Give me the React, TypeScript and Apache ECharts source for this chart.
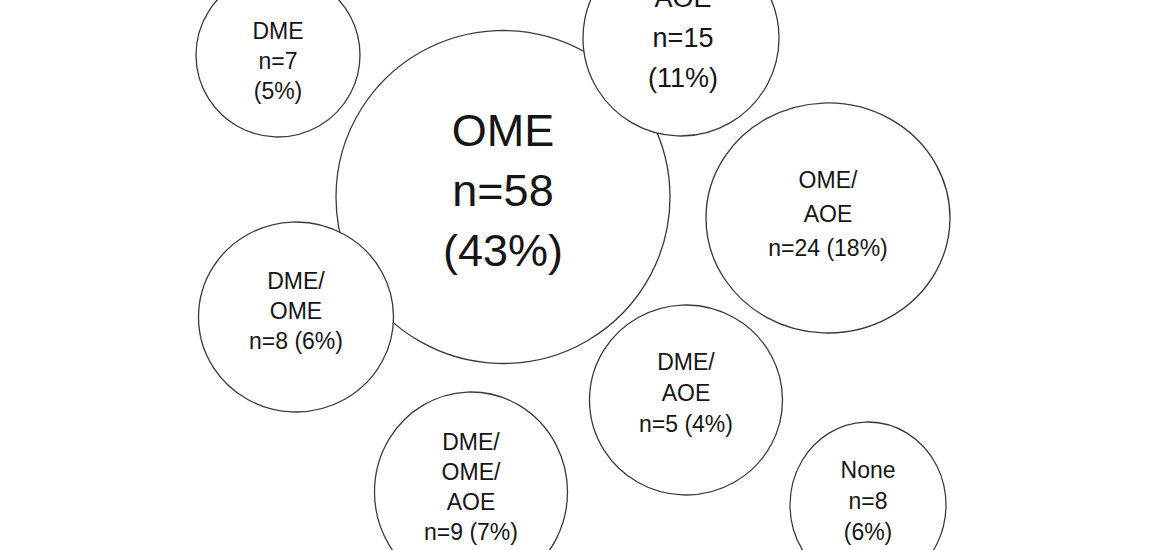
import React, { useEffect, useRef } from "react";
import * as echarts from "echarts";

// Groups shown in the diagram (drawn in this order: later ones lie on top)
const groupLines: string[][] = [
  ["OME", "n=58", "(43%)"],
  ["DME", "n=7", "(5%)"],
  ["AOE", "n=15", "(11%)"],
  ["OME/", "AOE", "n=24 (18%)"],
  ["DME/", "OME", "n=8 (6%)"],
  ["DME/", "AOE", "n=5 (4%)"],
  ["DME/", "OME/", "AOE", "n=9 (7%)"],
  ["None", "n=8", "(6%)"],
];
const groupN = [58, 7, 15, 24, 8, 5, 9, 8];

// Bubble centres in diagram units (x: 0..1170, y: 0..550 top-down)
const bubbleX = [503, 278, 681, 828, 296, 686, 471, 868];
const bubbleY = [197, 55, 38, 218, 317, 400, 492, 505];
// Bubble extents (width, height)
const bubbleW = [334, 164, 196, 244, 195, 193, 193, 156];
const bubbleH = [333, 164, 196, 230, 190, 190, 200, 166];

// Label typography per bubble
const labelSize = [45, 23, 27, 23, 23, 23, 23, 23];
const labelLineH = [60, 30, 40, 34, 30, 31, 30, 31];
const labelDX = [0, 0, 2, 0, 0, 0, 0, 0];
const labelDY = [-7, 6, 0, -4, -6, -7, -5, -4];

export default function App() {
  const ref = useRef<HTMLDivElement>(null);
  useEffect(() => {
    document.body.style.margin = "0";
    document.body.style.background = "#ffffff";
    const chart = echarts.init(ref.current!, undefined, { renderer: "svg" });
    const data = groupN.map((n, i) => ({
      name: groupLines[i].join(" "),
      value: [bubbleX[i], bubbleY[i], n],
      symbolSize: [bubbleW[i], bubbleH[i]],
      label: {
        show: true,
        position: "inside",
        formatter: groupLines[i].join("\n"),
        fontSize: labelSize[i],
        lineHeight: labelLineH[i],
        offset: [labelDX[i], labelDY[i]],
        color: "#151515",
        fontFamily: "'Liberation Sans', Arial, sans-serif",
        align: "center",
      },
    }));
    chart.setOption({
      animation: false,
      backgroundColor: "#ffffff",
      grid: { left: 0, right: 0, top: 0, bottom: 0 },
      xAxis: { type: "value", min: 0, max: 1170, show: false },
      yAxis: { type: "value", min: 0, max: 550, inverse: true, show: false },
      series: [
        {
          type: "scatter",
          symbol: "circle",
          data,
          itemStyle: {
            color: "#ffffff",
            borderColor: "#3a3a3a",
            borderWidth: 1.3,
            opacity: 1,
          },
          emphasis: { disabled: true },
          clip: false,
        },
      ],
    });
    return () => chart.dispose();
  }, []);
  return <div ref={ref} style={{ width: 1170, height: 550 }} />;
}
